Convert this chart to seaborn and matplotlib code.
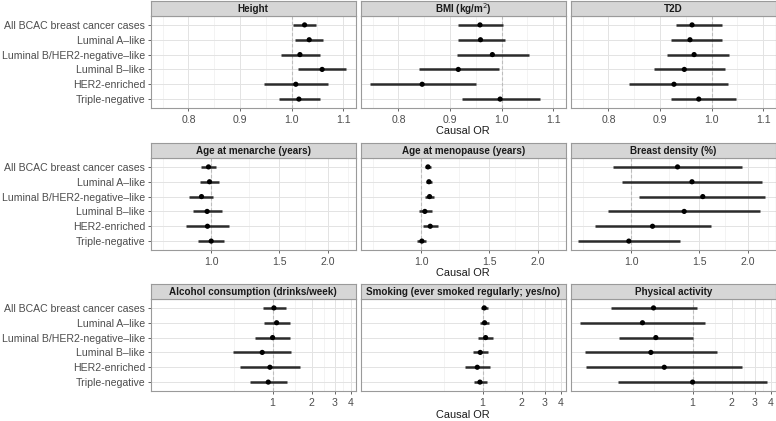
import numpy as np
import pandas as pd
import matplotlib
matplotlib.use('agg')
import matplotlib.pyplot as plt
import seaborn as sns
from matplotlib.ticker import FixedLocator, FixedFormatter, NullFormatter

subtypes = ["All BCAC breast cancer cases", "Luminal A\u2013like", "Luminal B/HER2-negative\u2013like",
            "Luminal B\u2013like", "HER2-enriched", "Triple-negative"]

traits = ["Height", "BMI (kg/m$^{2}$)", "T2D",
          "Age at menarche (years)", "Age at menopause (years)", "Breast density (%)",
          "Alcohol consumption (drinks/week)", "Smoking (ever smoked regularly; yes/no)", "Physical activity"]

# causal OR, lower and upper CI per trait (rows follow subtypes)
or_height = [1.025, 1.034, 1.016, 1.059, 1.008, 1.014]
lo_height = [1.003, 1.006, 0.979, 1.012, 0.946, 0.976]
hi_height = [1.047, 1.061, 1.055, 1.106, 1.070, 1.054]

or_bmi = [0.958, 0.959, 0.982, 0.916, 0.846, 0.997]
lo_bmi = [0.916, 0.916, 0.913, 0.839, 0.745, 0.923]
hi_bmi = [1.003, 1.006, 1.053, 0.995, 0.950, 1.074]

or_t2d = [0.962, 0.958, 0.966, 0.947, 0.927, 0.975]
lo_t2d = [0.931, 0.921, 0.914, 0.889, 0.839, 0.921]
hi_t2d = [1.020, 1.020, 1.034, 1.026, 1.032, 1.047]

or_menarche = [0.984, 0.990, 0.944, 0.976, 0.978, 1.000]
lo_menarche = [0.942, 0.934, 0.878, 0.896, 0.863, 0.927]
hi_menarche = [1.030, 1.049, 1.012, 1.064, 1.111, 1.077]

or_menopause = [1.041, 1.047, 1.051, 1.022, 1.055, 1.004]
lo_menopause = [1.022, 1.026, 1.020, 0.988, 1.010, 0.978]
hi_menopause = [1.057, 1.068, 1.081, 1.064, 1.103, 1.030]

or_density = [1.317, 1.435, 1.530, 1.370, 1.135, 0.986]
lo_density = [0.900, 0.948, 1.050, 0.873, 0.806, 0.730]
hi_density = [1.932, 2.180, 2.220, 2.150, 1.610, 1.340]

or_alcohol = [1.024, 1.074, 1.000, 0.832, 0.954, 0.926]
lo_alcohol = [0.847, 0.862, 0.731, 0.498, 0.560, 0.669]
hi_alcohol = [1.260, 1.360, 1.360, 1.385, 1.620, 1.280]

or_smoking = [1.030, 1.036, 1.055, 0.959, 0.910, 0.954]
lo_smoking = [0.965, 0.954, 0.926, 0.847, 0.730, 0.857]
hi_smoking = [1.106, 1.125, 1.195, 1.106, 1.139, 1.086]

or_activity = [0.500, 0.411, 0.521, 0.477, 0.605, 1.000]
lo_activity = [0.235, 0.136, 0.272, 0.148, 0.152, 0.267]
hi_activity = [1.073, 1.250, 1.000, 1.530, 2.400, 3.740]

all_or = [or_height, or_bmi, or_t2d, or_menarche, or_menopause, or_density, or_alcohol, or_smoking, or_activity]
all_lo = [lo_height, lo_bmi, lo_t2d, lo_menarche, lo_menopause, lo_density, lo_alcohol, lo_smoking, lo_activity]
all_hi = [hi_height, hi_bmi, hi_t2d, hi_menarche, hi_menopause, hi_density, hi_alcohol, hi_smoking, hi_activity]

rows = []
for t, o, l, h in zip(traits, all_or, all_lo, all_hi):
    for i, s in enumerate(subtypes):
        rows.append({"trait": t, "subtype": s, "pos": i, "OR": o[i], "lo": l[i], "hi": h[i]})
df = pd.DataFrame(rows)

# per-row x scales
row_scale = ["linear", "log", "log"]
row_lim = [(0.727, 1.124), (0.698, 2.36), (0.115, 4.37)]
row_ticks = [[0.8, 0.9, 1.0, 1.1], [1.0, 1.5, 2.0], [1, 2, 3, 4]]
row_labels = [["0.8", "0.9", "1.0", "1.1"], ["1.0", "1.5", "2.0"], ["1", "2", "3", "4"]]
row_minor = [[0.75, 0.85, 0.95, 1.05], [0.75, 1.25, 1.75, 2.25], [0.5, 1.5, 2.5, 3.5]]

sns.set_theme(style="white")
plt.rcParams['font.family'] = ['Liberation Sans', 'DejaVu Sans']

W, H = 776, 421
fig = plt.figure(figsize=(W / 100, H / 100), dpi=100)

col_x = [150.7, 360.7, 570.7]
pw = 205
row_strip = [1, 143, 284]
sh = 15
ph = 92
border = "#9a9a9a"
fs = 7.55

for k, t in enumerate(traits):
    r, c = divmod(k, 3)
    x0 = col_x[c]
    ytop = row_strip[r]
    ax = fig.add_axes([x0 / W, 1 - (ytop + sh + ph) / H, pw / W, ph / H])
    sax = fig.add_axes([x0 / W, 1 - (ytop + sh) / H, pw / W, sh / H])
    sax.set_facecolor("#d6d6d6")
    sax.set_xticks([])
    sax.set_yticks([])
    for sp in sax.spines.values():
        sp.set_color(border)
        sp.set_linewidth(0.8)
    sax.text(0.5, 0.45, t, ha="center", va="center", fontsize=7.1, fontweight="bold",
             color="#1a1a1a", transform=sax.transAxes)

    d = df[df["trait"] == t]
    ax.set_xscale(row_scale[r])
    ax.set_xlim(*row_lim[r])
    ax.set_ylim(5.6, -0.6)
    ax.xaxis.set_major_locator(FixedLocator(row_ticks[r]))
    ax.xaxis.set_major_formatter(FixedFormatter(row_labels[r]))
    ax.xaxis.set_minor_locator(FixedLocator(row_minor[r]))
    ax.xaxis.set_minor_formatter(NullFormatter())
    ax.set_yticks(range(len(subtypes)))
    ax.grid(True, which="major", color="#e3e3e3", lw=0.7, zorder=0)
    ax.grid(True, which="minor", axis="x", color="#eeeeee", lw=0.5, zorder=0)
    ax.axvline(1.0, color="#bdbdbd", lw=0.8, ls=(0, (3, 2)), zorder=1)

    ax.hlines(d["pos"], d["lo"], d["hi"], color="#2b2b2b", lw=1.8, zorder=2)
    sns.scatterplot(data=d, x="OR", y="pos", ax=ax, color="black", s=14, edgecolor="none",
                    zorder=3, legend=False)
    ax.set_xlabel("")
    ax.set_ylabel("")

    ax.tick_params(axis="x", which="major", length=2.5, width=0.6, color="#4d4d4d",
                   labelsize=fs, labelcolor="#4d4d4d", pad=2.5, bottom=True)
    ax.tick_params(axis="x", which="minor", length=0)
    if c == 0:
        ax.set_yticklabels(subtypes)
        ax.tick_params(axis="y", length=2.5, width=0.6, color="#4d4d4d", labelsize=fs,
                       labelcolor="#4d4d4d", pad=1.5, left=True)
    else:
        ax.set_yticklabels([])
        ax.tick_params(axis="y", length=0)
    for sp in ax.spines.values():
        sp.set_color(border)
        sp.set_linewidth(0.8)

for r, yl in enumerate([131, 273, 415]):
    fig.text((col_x[1] + pw / 2) / W, 1 - yl / H, "Causal OR", ha="center", va="center",
             fontsize=7.9, color="#1a1a1a")

fig.savefig("out.png", dpi=100)
